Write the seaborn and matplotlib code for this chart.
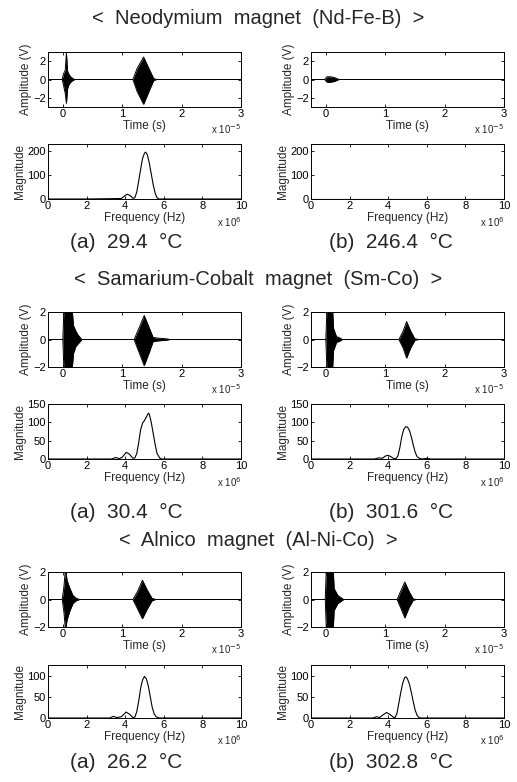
import numpy as np
import seaborn as sns
import matplotlib.pyplot as plt

# ---- data (time in units of 1e-5 s, frequency in units of 1e6 Hz) ----
# burst envelopes
nd_a_t = [-0.25, -0.01, 0.01, 0.04, 0.06, 0.08, 0.1, 0.13, 0.17, 0.2, 1.18, 1.25, 1.36, 1.45, 1.53, 1.58, 3.0]
nd_a_hi = [0, 0, 0.6, 1.0, 2.9, 0.9, 0.6, 0.3, 0.1, 0, 0, 1.2, 2.45, 1.2, 0.1, 0, 0]
nd_a_lo = [0, 0, -0.6, -1.5, -2.6, -1.0, -0.6, -0.3, -0.1, 0, 0, -1.3, -2.7, -1.3, -0.1, 0, 0]

nd_b_t = [-0.25, -0.02, 0.02, 0.08, 0.15, 0.22, 3.0]
nd_b_hi = [0, 0, 0.3, 0.3, 0.2, 0, 0]
nd_b_lo = [0, 0, -0.3, -0.3, -0.2, 0, 0]

sm_a_t = [-0.25, 0.0, 0.02, 0.15, 0.18, 0.22, 0.26, 0.32, 1.2, 1.28, 1.37, 1.45, 1.52, 1.6, 1.75, 1.8, 3.0]
sm_a_hi = [0, 0, 2.5, 2.5, 1.0, 0.6, 0.3, 0, 0, 0.8, 1.75, 0.9, 0.15, 0.1, 0.05, 0, 0]
sm_a_lo = [0, 0, -2.5, -2.5, -1.0, -0.5, -0.3, 0, 0, -0.9, -1.9, -1.0, -0.15, -0.1, -0.05, 0, 0]

sm_b_t = [-0.25, 0.0, 0.02, 0.11, 0.13, 0.18, 0.22, 0.28, 1.23, 1.3, 1.36, 1.43, 1.5, 1.56, 3.0]
sm_b_hi = [0, 0, 2.5, 2.5, 0.8, 0.2, 0.15, 0, 0, 0.6, 1.3, 0.6, 0.05, 0, 0]
sm_b_lo = [0, 0, -2.5, -2.5, -0.8, -0.2, -0.15, 0, 0, -0.6, -1.35, -0.6, -0.05, 0, 0]

al_a_t = [-0.25, -0.01, 0.02, 0.045, 0.07, 0.12, 0.17, 0.22, 0.28, 1.18, 1.26, 1.34, 1.42, 1.5, 1.56, 3.0]
al_a_hi = [0, 0, 1.0, 2.3, 1.4, 0.8, 0.3, 0.1, 0, 0, 0.6, 1.4, 0.7, 0.1, 0, 0]
al_a_lo = [0, 0, -1.0, -2.3, -1.5, -0.8, -0.3, -0.1, 0, 0, -0.7, -1.4, -0.7, -0.1, 0, 0]

al_b_t = [-0.25, -0.01, 0.01, 0.12, 0.14, 0.2, 0.3, 1.2, 1.26, 1.33, 1.4, 1.47, 1.52, 3.0]
al_b_hi = [0, 0, 2.5, 2.5, 0.8, 0.3, 0, 0, 0.6, 1.27, 0.6, 0.05, 0, 0]
al_b_lo = [0, 0, -2.5, -2.5, -0.8, -0.3, 0, 0, -0.6, -1.34, -0.6, -0.05, 0, 0]

# spectra
nd_a_f = [0, 2, 3.8, 3.95, 4.1, 4.25, 4.4, 4.5, 4.6, 4.7, 4.8, 4.9, 5.0, 5.06, 5.15, 5.25, 5.35, 5.45, 5.55, 5.65, 5.75, 8, 10]
nd_a_m = [0, 0, 2, 12, 20, 15, 3, 5, 30, 75, 125, 170, 192, 196, 185, 150, 105, 60, 25, 5, 0, 0, 0]

nd_b_f = [0, 10]
nd_b_m = [1, 1]

sm_a_f = [0, 3.3, 3.5, 3.7, 3.85, 4.05, 4.2, 4.4, 4.5, 4.6, 4.7, 4.8, 4.9, 5.0, 5.1, 5.2, 5.25, 5.35, 5.45, 5.55, 5.65, 5.8, 5.9, 10]
sm_a_m = [0, 0, 4, 1, 5, 18, 14, 2, 3, 15, 45, 80, 98, 105, 115, 125, 122, 100, 70, 40, 15, 2, 0, 0]

sm_b_f = [0, 3.3, 3.5, 3.7, 3.85, 4.0, 4.15, 4.3, 4.4, 4.5, 4.6, 4.7, 4.8, 4.9, 5.0, 5.1, 5.2, 5.3, 5.4, 5.5, 5.65, 5.8, 6.0, 6.2, 10]
sm_b_m = [0, 0, 3, 2, 8, 10, 6, 1, 1, 8, 30, 60, 80, 88, 87, 78, 60, 38, 18, 6, 1, 0, 2, 0, 0]

al_a_f = [0, 3.2, 3.4, 3.55, 3.8, 4.05, 4.25, 4.4, 4.5, 4.6, 4.7, 4.8, 4.9, 5.0, 5.1, 5.2, 5.3, 5.4, 5.5, 5.6, 5.75, 10]
al_a_m = [0, 0, 4, 1, 3, 14, 8, 1, 2, 15, 40, 70, 90, 98, 92, 75, 50, 25, 10, 3, 0, 0]

al_b_f = [0, 3.2, 3.4, 3.55, 3.75, 3.92, 4.1, 4.3, 4.35, 4.45, 4.55, 4.65, 4.75, 4.85, 4.92, 5.0, 5.1, 5.2, 5.3, 5.4, 5.5, 5.6, 5.7, 10]
al_b_m = [0, 0, 3, 1, 8, 13, 8, 1, 1, 10, 35, 60, 82, 95, 97, 92, 80, 60, 38, 18, 6, 1, 0, 0]

titles = ["<  Neodymium  magnet  (Nd-Fe-B)  >",
          "<  Samarium-Cobalt  magnet  (Sm-Co)  >",
          "<  Alnico  magnet  (Al-Ni-Co)  >"]
captions = [("(a)  29.4  °C", "(b)  246.4  °C"),
            ("(a)  30.4  °C", "(b)  301.6  °C"),
            ("(a)  26.2  °C", "(b)  302.8  °C")]

time_sigs = [[(nd_a_t, nd_a_hi, nd_a_lo), (nd_b_t, nd_b_hi, nd_b_lo)],
             [(sm_a_t, sm_a_hi, sm_a_lo), (sm_b_t, sm_b_hi, sm_b_lo)],
             [(al_a_t, al_a_hi, al_a_lo), (al_b_t, al_b_hi, al_b_lo)]]
spectra = [[(nd_a_f, nd_a_m), (nd_b_f, nd_b_m)],
           [(sm_a_f, sm_a_m), (sm_b_f, sm_b_m)],
           [(al_a_f, al_a_m), (al_b_f, al_b_m)]]

amp_lims = [(-3, 3), (-2, 2), (-2, 2)]
amp_ticks = [[-2, 0, 2], [-2, 0, 2], [-2, 0, 2]]
mag_lims = [(0, 230), (0, 150), (0, 125)]
mag_ticks = [[0, 100, 200], [0, 50, 100, 150], [0, 50, 100]]

# ---- layout (pixel boxes of the original scan) ----
W, H = 517, 782
col_x = [(48, 241), (311, 504)]
time_y = [(52, 107), (312, 367), (572, 627)]
mag_y = [(144, 199), (404, 459), (665, 718)]
title_y = [18, 280, 540]
caption_y = [242, 512, 762]
caption_x = [126, 391]


def rect(x0, x1, y0, y1):
    return [x0 / W, 1 - y1 / H, (x1 - x0) / W, (y1 - y0) / H]


sns.set_theme(style="ticks")
plt.rcParams['font.family'] = ['Liberation Sans', 'DejaVu Sans']
plt.rcParams.update({
    'xtick.direction': 'in', 'ytick.direction': 'in',
    'xtick.top': True, 'ytick.right': True,
    'xtick.major.size': 2.5, 'ytick.major.size': 2.5,
    'xtick.major.width': 0.6, 'ytick.major.width': 0.6,
    'xtick.major.pad': 1.5, 'ytick.major.pad': 1.5,
    'axes.linewidth': 0.7, 'axes.edgecolor': 'black',
    'xtick.color': 'black', 'ytick.color': 'black',
    'xtick.labelsize': 8, 'ytick.labelsize': 8,
    'axes.labelsize': 8.5, 'axes.labelpad': 1,
})

fig = plt.figure(figsize=(W / 100, H / 100), dpi=100)

for g in range(3):
    fig.text(258 / W, 1 - title_y[g] / H, titles[g], ha='center', va='center', fontsize=14.5)
    for c in range(2):
        x0, x1 = col_x[c]

        # time signal
        ax = fig.add_axes(rect(x0, x1, *time_y[g]))
        t, hi, lo = time_sigs[g][c]
        ax.fill_between(t, lo, hi, color='black', lw=0)
        sns.lineplot(x=t, y=hi, ax=ax, color='black', lw=0.7)
        sns.lineplot(x=t, y=lo, ax=ax, color='black', lw=0.7)
        ax.set_xlim(-0.25, 3)
        ax.set_ylim(*amp_lims[g])
        ax.set_xticks([0, 1, 2, 3])
        ax.set_yticks(amp_ticks[g])
        ax.set_xlabel("Time (s)")
        ax.set_ylabel("Amplitude (V)")
        ax.text(1.0, -0.4, r"x 10$^{-5}$", transform=ax.transAxes,
                ha='right', va='center', fontsize=7)

        # spectrum
        ax = fig.add_axes(rect(x0, x1, *mag_y[g]))
        f, m = spectra[g][c]
        sns.lineplot(x=f, y=m, ax=ax, color='black', lw=0.8)
        ax.set_xlim(0, 10)
        ax.set_ylim(*mag_lims[g])
        ax.set_xticks([0, 2, 4, 6, 8, 10])
        ax.set_yticks(mag_ticks[g])
        ax.set_xlabel("Frequency (Hz)")
        ax.set_ylabel("Magnitude")
        ax.text(1.0, -0.42, r"x 10$^{6}$", transform=ax.transAxes,
                ha='right', va='center', fontsize=7)

        fig.text(caption_x[c] / W, 1 - caption_y[g] / H, captions[g][c],
                 ha='center', va='center', fontsize=15)

fig.savefig("out.png", dpi=100)
